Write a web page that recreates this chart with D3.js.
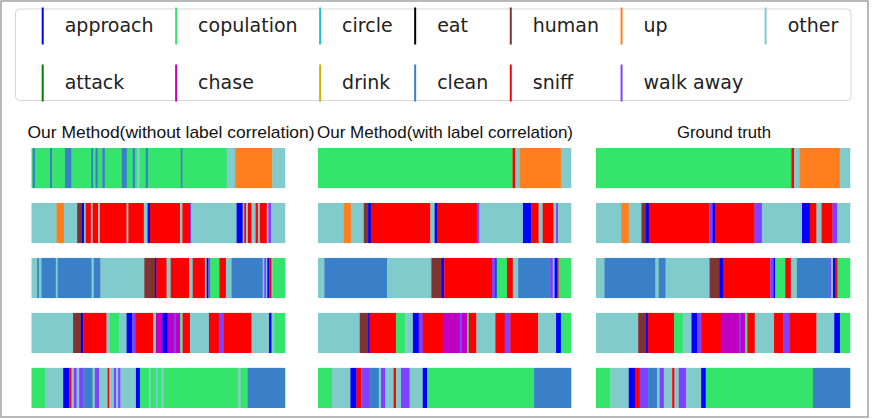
<!DOCTYPE html>
<html>
<head>
<meta charset="utf-8">
<script src="https://cdn.jsdelivr.net/npm/d3@7"></script>
<style>
  body { margin: 0; background: #fff; }
  svg { display: block; }
</style>
</head>
<body>
<svg id="chart" width="872" height="419"></svg>
<script>
// DATA
// behaviour labels, in the order matplotlib fills the 7-column legend (column-wise)
var behaviours = ["approach", "attack", "copulation", "chase", "circle", "drink",
                  "eat", "clean", "human", "sniff", "up", "walk away", "other"];
var behaviourColors = ["#0000ff", "#008000", "#35e46a", "#c000c0", "#22c2c8", "#c8b400",
                       "#000000", "#3a80c8", "#7f3333", "#ff0000", "#ff7f1f", "#8040ff", "#82cbcc"];

var panelTitles = ["Our Method(without label correlation)",
                   "Our Method(with label correlation)",
                   "Ground truth"];

// each clip: list of [start (% of clip), behaviour]; a run lasts until the next start
var withoutCorrelation = [
  [[0,"copulation"],[0.5,"clean"],[1.4,"copulation"],[7.3,"clean"],[8.1,"copulation"],[13.2,"clean"],[15.8,"copulation"],
   [23.5,"clean"],[24.4,"copulation"],[25.2,"clean"],[26.1,"copulation"],[27.9,"clean"],[28.9,"copulation"],[35.6,"clean"],
   [37.6,"copulation"],[39.9,"clean"],[40.8,"copulation"],[41.7,"other"],[42.5,"copulation"],[45.0,"clean"],[46.0,"copulation"],
   [58.9,"clean"],[59.6,"copulation"],[77.0,"other"],[80.3,"up"],[95.0,"other"]],
  [[0,"other"],[9.9,"up"],[12.8,"other"],[18.0,"human"],[19.7,"approach"],[20.8,"other"],[21.4,"sniff"],[23.4,"other"],
   [24.1,"sniff"],[26.3,"other"],[27.0,"sniff"],[37.5,"other"],[38.2,"sniff"],[44.3,"other"],[45.8,"approach"],[46.7,"sniff"],
   [58.6,"other"],[59.5,"sniff"],[62.5,"walk away"],[63.0,"other"],[80.9,"approach"],[83.3,"other"],[83.9,"sniff"],
   [84.6,"other"],[85.4,"sniff"],[86.8,"other"],[88.4,"sniff"],[89.3,"other"],[90.1,"sniff"],[92.8,"other"],
   [93.4,"walk away"],[94.5,"other"]],
  [[0,"other"],[2.2,"clean"],[2.9,"other"],[3.9,"clean"],[9.6,"other"],[10.3,"clean"],[23.7,"other"],[24.6,"clean"],
   [27.2,"other"],[44.5,"human"],[48.7,"approach"],[49.3,"sniff"],[53.3,"other"],[54.9,"sniff"],[62.2,"other"],[63.6,"sniff"],
   [68.4,"other"],[69.1,"approach"],[69.7,"walk away"],[70.4,"copulation"],[74.1,"sniff"],[76.7,"other"],[78.9,"clean"],
   [91.2,"other"],[91.8,"walk away"],[92.5,"other"],[93.0,"approach"],[93.8,"sniff"],[94.7,"other"],[95.1,"copulation"]],
  [[0,"other"],[16.4,"human"],[19.5,"approach"],[20.4,"sniff"],[29.6,"other"],[30.7,"copulation"],[34.5,"other"],
   [37.5,"approach"],[39.7,"walk away"],[41.1,"sniff"],[48.0,"other"],[49.1,"chase"],[51.7,"approach"],[53.7,"chase"],
   [56.2,"walk away"],[56.7,"chase"],[58.6,"copulation"],[58.9,"other"],[59.6,"sniff"],[62.5,"other"],[70.0,"sniff"],
   [73.9,"walk away"],[75.9,"sniff"],[86.8,"other"],[93.7,"approach"],[94.7,"other"],[95.7,"copulation"]],
  [[0,"copulation"],[5.3,"other"],[12.5,"approach"],[14.9,"sniff"],[15.8,"other"],[16.7,"walk away"],[17.8,"other"],
   [18.8,"walk away"],[20.4,"clean"],[24.1,"other"],[25.0,"walk away"],[26.6,"other"],[30.0,"sniff"],[30.7,"other"],
   [32.5,"walk away"],[33.3,"other"],[34.2,"walk away"],[35.1,"other"],[41.2,"approach"],[42.8,"copulation"],[46.4,"other"],
   [47.0,"copulation"],[49.1,"other"],[49.6,"copulation"],[51.3,"other"],[52.0,"copulation"],[81.6,"other"],
   [82.5,"copulation"],[85.3,"clean"]]
];

var withCorrelation = [
  [[0,"copulation"],[76.9,"sniff"],[78.0,"other"],[79.6,"up"],[96.0,"other"]],
  [[0,"other"],[10.1,"up"],[13.0,"other"],[18.1,"human"],[19.8,"approach"],[20.9,"sniff"],[44.4,"other"],[46.1,"approach"],
   [47.0,"sniff"],[62.8,"walk away"],[63.8,"other"],[81.0,"approach"],[84.3,"sniff"],[87.2,"other"],[88.8,"sniff"],
   [93.1,"other"],[94.1,"walk away"],[94.9,"other"]],
  [[0,"other"],[2.5,"clean"],[27.3,"other"],[44.8,"human"],[48.7,"approach"],[49.9,"sniff"],[68.8,"walk away"],
   [70.1,"approach"],[70.6,"copulation"],[74.7,"sniff"],[77.0,"other"],[79.1,"clean"],[91.4,"walk away"],[92.8,"other"],
   [93.5,"approach"],[94.5,"sniff"],[95.1,"copulation"]],
  [[0,"other"],[16.5,"human"],[19.8,"approach"],[20.4,"sniff"],[30.8,"copulation"],[34.5,"other"],[37.5,"approach"],
   [39.8,"walk away"],[41.4,"sniff"],[49.3,"chase"],[56.0,"walk away"],[56.7,"chase"],[58.9,"copulation"],[59.6,"sniff"],
   [62.6,"other"],[70.1,"sniff"],[73.8,"walk away"],[76.0,"sniff"],[87.0,"other"],[94.1,"approach"],[96.0,"copulation"]],
  [[0,"copulation"],[5.5,"other"],[12.8,"approach"],[15.2,"sniff"],[17.1,"walk away"],[20.4,"clean"],[24.0,"other"],
   [24.9,"walk away"],[26.6,"other"],[29.9,"sniff"],[30.8,"other"],[32.8,"walk away"],[36.2,"other"],[41.4,"approach"],
   [43.1,"copulation"],[85.4,"clean"]]
];

var groundTruth = [
  [[0,"copulation"],[76.9,"sniff"],[78.0,"other"],[80.2,"up"],[96.0,"other"]],
  [[0,"other"],[9.9,"up"],[12.9,"other"],[17.9,"human"],[19.5,"approach"],[20.8,"sniff"],[44.6,"walk away"],
   [45.9,"approach"],[46.8,"sniff"],[62.4,"walk away"],[65.3,"other"],[81.1,"approach"],[84.2,"sniff"],[86.8,"other"],
   [88.8,"sniff"],[93.1,"walk away"],[95.0,"other"]],
  [[0,"other"],[3.3,"clean"],[23.4,"other"],[24.7,"clean"],[27.4,"other"],[44.7,"human"],[48.7,"approach"],[50.0,"sniff"],
   [68.6,"walk away"],[69.9,"approach"],[70.5,"copulation"],[74.5,"sniff"],[76.7,"other"],[79.1,"clean"],
   [91.8,"walk away"],[92.5,"other"],[93.3,"approach"],[94.1,"sniff"],[95.1,"copulation"]],
  [[0,"other"],[16.6,"human"],[19.7,"approach"],[20.4,"sniff"],[30.7,"copulation"],[34.3,"other"],[37.6,"approach"],
   [39.9,"walk away"],[41.4,"sniff"],[49.1,"chase"],[56.3,"walk away"],[57.0,"chase"],[58.7,"copulation"],[59.6,"sniff"],
   [62.5,"other"],[70.1,"sniff"],[73.8,"walk away"],[76.1,"sniff"],[86.8,"other"],[93.8,"approach"],[96.1,"copulation"]],
  [[0,"copulation"],[5.7,"other"],[12.9,"approach"],[15.3,"sniff"],[17.2,"walk away"],[20.5,"clean"],[24.1,"other"],
   [25.0,"walk away"],[26.7,"other"],[30.0,"sniff"],[30.9,"other"],[32.6,"walk away"],[35.5,"other"],[41.4,"approach"],
   [43.2,"copulation"],[85.4,"clean"]]
];

var panels = [withoutCorrelation, withCorrelation, groundTruth];

// LAYOUT
var panelRanges = [[31.5, 285], [318, 571], [596, 850]];
var titleCenters = [171, 445, 724];
var titleWidths = [287, 256, 94];

var color = d3.scaleOrdinal().domain(behaviours).range(behaviourColors);
var rowScale = d3.scaleBand().domain(d3.range(5)).range([148, 408]).paddingInner(0.27);

var svg = d3.select("#chart");

// outer frame
svg.append("rect")
  .attr("x", 1).attr("y", 1).attr("width", 867).attr("height", 416)
  .attr("fill", "#fff").attr("stroke", "#8a8a8a").attr("stroke-width", 1.2);

// legend box
svg.append("rect")
  .attr("x", 15.5).attr("y", 9).attr("width", 835.5).attr("height", 91.5)
  .attr("rx", 4).attr("fill", "#fff").attr("stroke", "#d6d6d6").attr("stroke-width", 1);

// legend: column-wise fill, 7 columns x 2 rows, columns sized from text widths
var legend = svg.append("g").attr("font-family", "DejaVu Sans").attr("font-size", 19).attr("fill", "#222");
var rowBase = [31.5, 88.5];
var colX = 42.7;
for (var c = 0; c < 7; c++) {
  var maxW = 0;
  for (var r = 0; r < 2; r++) {
    var k = c * 2 + r;
    if (k >= behaviours.length) break;
    legend.append("line")
      .attr("x1", colX).attr("x2", colX)
      .attr("y1", rowBase[r] - 24).attr("y2", rowBase[r] + 13)
      .attr("stroke", color(behaviours[k])).attr("stroke-width", 2);
    var t = legend.append("text")
      .attr("x", colX + 22).attr("y", rowBase[r])
      .text(behaviours[k]);
    maxW = Math.max(maxW, t.node().getComputedTextLength());
  }
  colX += 22 + maxW + 22.5;
}

// panels
panels.forEach(function(clips, p) {
  var x = d3.scaleLinear().domain([0, 100]).range(panelRanges[p]);

  svg.append("text")
    .attr("x", titleCenters[p]).attr("y", 138)
    .attr("text-anchor", "middle")
    .attr("font-family", "Liberation Sans, Arial, sans-serif")
    .attr("font-size", 17)
    .attr("textLength", titleWidths[p])
    .attr("lengthAdjust", "spacingAndGlyphs")
    .attr("fill", "#111")
    .text(panelTitles[p]);

  clips.forEach(function(runs, i) {
    var segs = runs.map(function(d, j) {
      return { start: d[0], end: j + 1 < runs.length ? runs[j + 1][0] : 100, label: d[1] };
    });
    svg.append("g")
      .selectAll("rect")
      .data(segs)
      .enter()
      .append("rect")
      .attr("x", function(d) { return x(d.start); })
      .attr("y", rowScale(i))
      .attr("width", function(d) { return x(d.end) - x(d.start) + 0.3; })
      .attr("height", rowScale.bandwidth())
      .attr("fill", function(d) { return color(d.label); });
  });
});
</script>
</body>
</html>
